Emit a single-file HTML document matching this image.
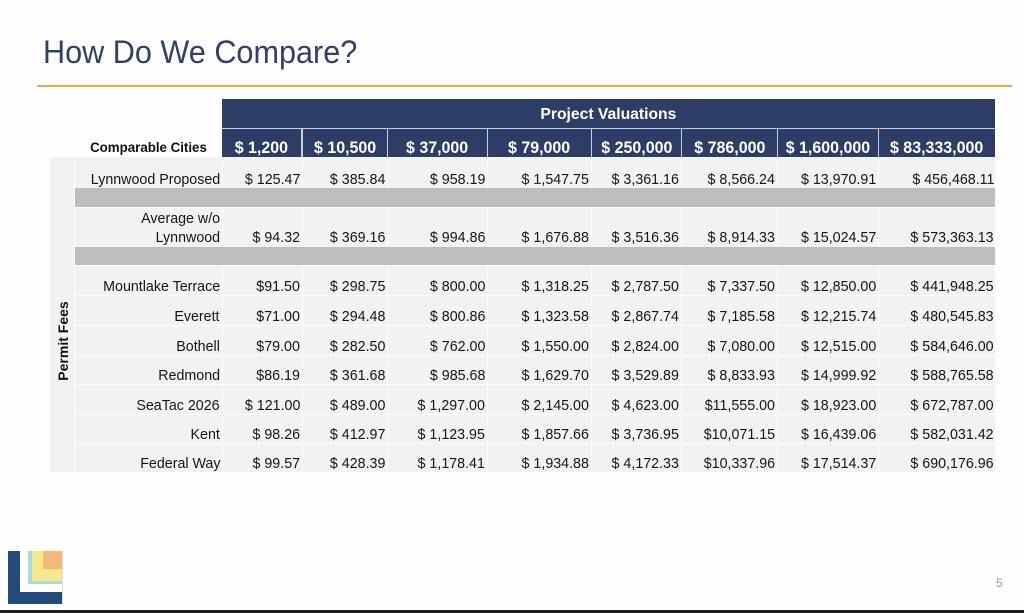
<!DOCTYPE html>
<html><head><meta charset="utf-8">
<style>
*{margin:0;padding:0;box-sizing:border-box}
body{width:1024px;height:613px;background:#fefefe;position:relative;overflow:hidden;font-family:"Liberation Sans",Arial,sans-serif}
.a{position:absolute}
.title{position:absolute;left:43px;top:34px;font-size:32px;line-height:36px;color:#2e4168;white-space:nowrap;transform:scaleX(.957);transform-origin:0 0}
.c{position:absolute;display:flex;justify-content:flex-end;align-items:flex-end;padding-right:2px;font-size:15px;line-height:17px;color:#151515;white-space:nowrap}
.c span{display:inline-block;transform:scaleX(.95);transform-origin:100% 100%}
.c.two{line-height:19px}
.c.two span{text-align:right}
.h{position:absolute;background:#2d3e66;color:#fff;font-weight:bold;font-size:17px;line-height:19px;display:flex;justify-content:center;align-items:flex-end;white-space:nowrap}
.h span{display:inline-block;transform:scaleX(.94)}
.hl{position:absolute;height:1px;background:#fff;left:75px;width:920px}
.vl{position:absolute;width:1px;background:#fff;top:157px;height:315px}
.band{position:absolute;left:75px;width:920px;background:#bdbdbd}
</style></head><body>

<div class="title">How Do We Compare?</div>
<div class="a" style="left:37px;top:85px;width:975px;height:2px;background:#f5a24f"></div>

<!-- header -->
<div class="a" style="left:222px;top:99px;width:773px;height:58px;background:#c9cfdb"></div>
<div class="a" style="left:222px;top:99px;width:773px;height:29px;background:#2d3e66"></div>
<div class="a" style="left:222px;top:106px;width:773px;text-align:center;color:#fff;font-weight:bold;font-size:16px;line-height:18px;white-space:nowrap"><span style="display:inline-block;transform:scaleX(.98)">Project Valuations</span></div>

<div class="h" style="left:222px;top:129px;width:79px;height:28px"><span>$ 1,200</span></div>
<div class="h" style="left:303px;top:129px;width:84px;height:28px"><span>$ 10,500</span></div>
<div class="h" style="left:388px;top:129px;width:99px;height:28px"><span>$ 37,000</span></div>
<div class="h" style="left:488px;top:129px;width:103px;height:28px"><span>$ 79,000</span></div>
<div class="h" style="left:592px;top:129px;width:89px;height:28px"><span>$ 250,000</span></div>
<div class="h" style="left:682px;top:129px;width:95px;height:28px"><span>$ 786,000</span></div>
<div class="h" style="left:778px;top:129px;width:100px;height:28px"><span>$ 1,600,000</span></div>
<div class="h" style="left:879px;top:129px;width:116px;height:28px"><span>$ 83,333,000</span></div>

<div class="a" style="left:75px;top:139px;width:147px;text-align:center;font-weight:bold;font-size:14px;line-height:16px;color:#111;white-space:nowrap"><span style="display:inline-block;transform:scaleX(.95)">Comparable Cities</span></div>

<!-- grid background -->
<div class="a" style="left:50px;top:157px;width:24px;height:315px;background:#f2f2f2"></div>
<div class="a" style="left:75px;top:157px;width:920px;height:315px;background:#f2f2f2"></div>

<div class="vl" style="left:222px"></div>
<div class="vl" style="left:302px"></div>
<div class="vl" style="left:387px"></div>
<div class="vl" style="left:487px"></div>
<div class="vl" style="left:591px"></div>
<div class="vl" style="left:681px"></div>
<div class="vl" style="left:777px"></div>
<div class="vl" style="left:878px"></div>

<div class="hl" style="top:207px"></div>
<div class="hl" style="top:265px"></div>
<div class="hl" style="top:295px"></div>
<div class="hl" style="top:325px"></div>
<div class="hl" style="top:355px"></div>
<div class="hl" style="top:384px"></div>
<div class="hl" style="top:414px"></div>
<div class="hl" style="top:443px"></div>

<div class="band" style="top:188px;height:19px"></div>
<div class="band" style="top:247px;height:18px"></div>

<div class="a" style="left:62.5px;top:340.5px;transform:translate(-50%,-50%) rotate(-90deg);font-weight:bold;font-size:14px;line-height:16px;color:#111;white-space:nowrap">Permit Fees</div>

<!-- Row: Lynnwood Proposed 157-188 -->
<div class="c" style="left:75px;top:157px;width:147px;height:31px"><span>Lynnwood Proposed</span></div>
<div class="c" style="left:222px;top:157px;width:80px;height:31px"><span>$ 125.47</span></div>
<div class="c" style="left:302px;top:157px;width:85px;height:31px"><span>$ 385.84</span></div>
<div class="c" style="left:387px;top:157px;width:100px;height:31px"><span>$ 958.19</span></div>
<div class="c" style="left:487px;top:157px;width:104px;height:31px"><span>$ 1,547.75</span></div>
<div class="c" style="left:591px;top:157px;width:90px;height:31px"><span>$ 3,361.16</span></div>
<div class="c" style="left:681px;top:157px;width:96px;height:31px"><span>$ 8,566.24</span></div>
<div class="c" style="left:777px;top:157px;width:101px;height:31px"><span>$ 13,970.91</span></div>
<div class="c" style="left:878px;top:157px;width:117px;height:31px;padding-right:1px"><span>$ 456,468.11</span></div>

<!-- Row: Average 207-247 -->
<div class="c two" style="left:75px;top:207px;width:147px;height:40px"><span>Average w/o<br>Lynnwood</span></div>
<div class="c two" style="left:222px;top:207px;width:80px;height:40px"><span>$ 94.32</span></div>
<div class="c two" style="left:302px;top:207px;width:85px;height:40px"><span>$ 369.16</span></div>
<div class="c two" style="left:387px;top:207px;width:100px;height:40px"><span>$ 994.86</span></div>
<div class="c two" style="left:487px;top:207px;width:104px;height:40px"><span>$ 1,676.88</span></div>
<div class="c two" style="left:591px;top:207px;width:90px;height:40px"><span>$ 3,516.36</span></div>
<div class="c two" style="left:681px;top:207px;width:96px;height:40px"><span>$ 8,914.33</span></div>
<div class="c two" style="left:777px;top:207px;width:101px;height:40px"><span>$ 15,024.57</span></div>
<div class="c two" style="left:878px;top:207px;width:117px;height:40px;padding-right:1px"><span>$ 573,363.13</span></div>

<!-- Mountlake Terrace 265-295 -->
<div class="c" style="left:75px;top:265px;width:147px;height:30px"><span>Mountlake Terrace</span></div>
<div class="c" style="left:222px;top:265px;width:80px;height:30px"><span>$91.50</span></div>
<div class="c" style="left:302px;top:265px;width:85px;height:30px"><span>$ 298.75</span></div>
<div class="c" style="left:387px;top:265px;width:100px;height:30px"><span>$ 800.00</span></div>
<div class="c" style="left:487px;top:265px;width:104px;height:30px"><span>$ 1,318.25</span></div>
<div class="c" style="left:591px;top:265px;width:90px;height:30px"><span>$ 2,787.50</span></div>
<div class="c" style="left:681px;top:265px;width:96px;height:30px"><span>$ 7,337.50</span></div>
<div class="c" style="left:777px;top:265px;width:101px;height:30px"><span>$ 12,850.00</span></div>
<div class="c" style="left:878px;top:265px;width:117px;height:30px;padding-right:1px"><span>$ 441,948.25</span></div>

<!-- Everett 295-325 -->
<div class="c" style="left:75px;top:295px;width:147px;height:30px"><span>Everett</span></div>
<div class="c" style="left:222px;top:295px;width:80px;height:30px"><span>$71.00</span></div>
<div class="c" style="left:302px;top:295px;width:85px;height:30px"><span>$ 294.48</span></div>
<div class="c" style="left:387px;top:295px;width:100px;height:30px"><span>$ 800.86</span></div>
<div class="c" style="left:487px;top:295px;width:104px;height:30px"><span>$ 1,323.58</span></div>
<div class="c" style="left:591px;top:295px;width:90px;height:30px"><span>$ 2,867.74</span></div>
<div class="c" style="left:681px;top:295px;width:96px;height:30px"><span>$ 7,185.58</span></div>
<div class="c" style="left:777px;top:295px;width:101px;height:30px"><span>$ 12,215.74</span></div>
<div class="c" style="left:878px;top:295px;width:117px;height:30px;padding-right:1px"><span>$ 480,545.83</span></div>

<!-- Bothell 325-355 -->
<div class="c" style="left:75px;top:325px;width:147px;height:30px"><span>Bothell</span></div>
<div class="c" style="left:222px;top:325px;width:80px;height:30px"><span>$79.00</span></div>
<div class="c" style="left:302px;top:325px;width:85px;height:30px"><span>$ 282.50</span></div>
<div class="c" style="left:387px;top:325px;width:100px;height:30px"><span>$ 762.00</span></div>
<div class="c" style="left:487px;top:325px;width:104px;height:30px"><span>$ 1,550.00</span></div>
<div class="c" style="left:591px;top:325px;width:90px;height:30px"><span>$ 2,824.00</span></div>
<div class="c" style="left:681px;top:325px;width:96px;height:30px"><span>$ 7,080.00</span></div>
<div class="c" style="left:777px;top:325px;width:101px;height:30px"><span>$ 12,515.00</span></div>
<div class="c" style="left:878px;top:325px;width:117px;height:30px;padding-right:1px"><span>$ 584,646.00</span></div>

<!-- Redmond 355-384 -->
<div class="c" style="left:75px;top:355px;width:147px;height:29px"><span>Redmond</span></div>
<div class="c" style="left:222px;top:355px;width:80px;height:29px"><span>$86.19</span></div>
<div class="c" style="left:302px;top:355px;width:85px;height:29px"><span>$ 361.68</span></div>
<div class="c" style="left:387px;top:355px;width:100px;height:29px"><span>$ 985.68</span></div>
<div class="c" style="left:487px;top:355px;width:104px;height:29px"><span>$ 1,629.70</span></div>
<div class="c" style="left:591px;top:355px;width:90px;height:29px"><span>$ 3,529.89</span></div>
<div class="c" style="left:681px;top:355px;width:96px;height:29px"><span>$ 8,833.93</span></div>
<div class="c" style="left:777px;top:355px;width:101px;height:29px"><span>$ 14,999.92</span></div>
<div class="c" style="left:878px;top:355px;width:117px;height:29px;padding-right:1px"><span>$ 588,765.58</span></div>

<!-- SeaTac 384-414 -->
<div class="c" style="left:75px;top:384px;width:147px;height:30px"><span>SeaTac 2026</span></div>
<div class="c" style="left:222px;top:384px;width:80px;height:30px"><span>$ 121.00</span></div>
<div class="c" style="left:302px;top:384px;width:85px;height:30px"><span>$ 489.00</span></div>
<div class="c" style="left:387px;top:384px;width:100px;height:30px"><span>$ 1,297.00</span></div>
<div class="c" style="left:487px;top:384px;width:104px;height:30px"><span>$ 2,145.00</span></div>
<div class="c" style="left:591px;top:384px;width:90px;height:30px"><span>$ 4,623.00</span></div>
<div class="c" style="left:681px;top:384px;width:96px;height:30px"><span>$11,555.00</span></div>
<div class="c" style="left:777px;top:384px;width:101px;height:30px"><span>$ 18,923.00</span></div>
<div class="c" style="left:878px;top:384px;width:117px;height:30px;padding-right:1px"><span>$ 672,787.00</span></div>

<!-- Kent 414-443 -->
<div class="c" style="left:75px;top:414px;width:147px;height:29px"><span>Kent</span></div>
<div class="c" style="left:222px;top:414px;width:80px;height:29px"><span>$ 98.26</span></div>
<div class="c" style="left:302px;top:414px;width:85px;height:29px"><span>$ 412.97</span></div>
<div class="c" style="left:387px;top:414px;width:100px;height:29px"><span>$ 1,123.95</span></div>
<div class="c" style="left:487px;top:414px;width:104px;height:29px"><span>$ 1,857.66</span></div>
<div class="c" style="left:591px;top:414px;width:90px;height:29px"><span>$ 3,736.95</span></div>
<div class="c" style="left:681px;top:414px;width:96px;height:29px"><span>$10,071.15</span></div>
<div class="c" style="left:777px;top:414px;width:101px;height:29px"><span>$ 16,439.06</span></div>
<div class="c" style="left:878px;top:414px;width:117px;height:29px;padding-right:1px"><span>$ 582,031.42</span></div>

<!-- Federal Way 443-472 -->
<div class="c" style="left:75px;top:443px;width:147px;height:29px"><span>Federal Way</span></div>
<div class="c" style="left:222px;top:443px;width:80px;height:29px"><span>$ 99.57</span></div>
<div class="c" style="left:302px;top:443px;width:85px;height:29px"><span>$ 428.39</span></div>
<div class="c" style="left:387px;top:443px;width:100px;height:29px"><span>$ 1,178.41</span></div>
<div class="c" style="left:487px;top:443px;width:104px;height:29px"><span>$ 1,934.88</span></div>
<div class="c" style="left:591px;top:443px;width:90px;height:29px"><span>$ 4,172.33</span></div>
<div class="c" style="left:681px;top:443px;width:96px;height:29px"><span>$10,337.96</span></div>
<div class="c" style="left:777px;top:443px;width:101px;height:29px"><span>$ 17,514.37</span></div>
<div class="c" style="left:878px;top:443px;width:117px;height:29px;padding-right:1px"><span>$ 690,176.96</span></div>

<!-- logo -->
<div class="a" style="left:28px;top:551px;width:34px;height:33px;background:#a9dcd8"></div>
<div class="a" style="left:32px;top:551px;width:30px;height:30px;background:#f8e68a"></div>
<div class="a" style="left:43px;top:551px;width:19px;height:18px;background:#f2b77a"></div>
<div class="a" style="left:8px;top:551px;width:12px;height:53px;background:#24497b"></div>
<div class="a" style="left:8px;top:592px;width:54px;height:12px;background:#24497b"></div>
<div class="a" style="left:62px;top:551px;width:1px;height:53px;background:#dcdcdc"></div>

<div class="a" style="left:996px;top:576px;font-size:12px;line-height:14px;color:#9a9a9a">5</div>

<div class="a" style="left:0;top:610px;width:1024px;height:3px;background:#1f1f1f"></div>
</body></html>
